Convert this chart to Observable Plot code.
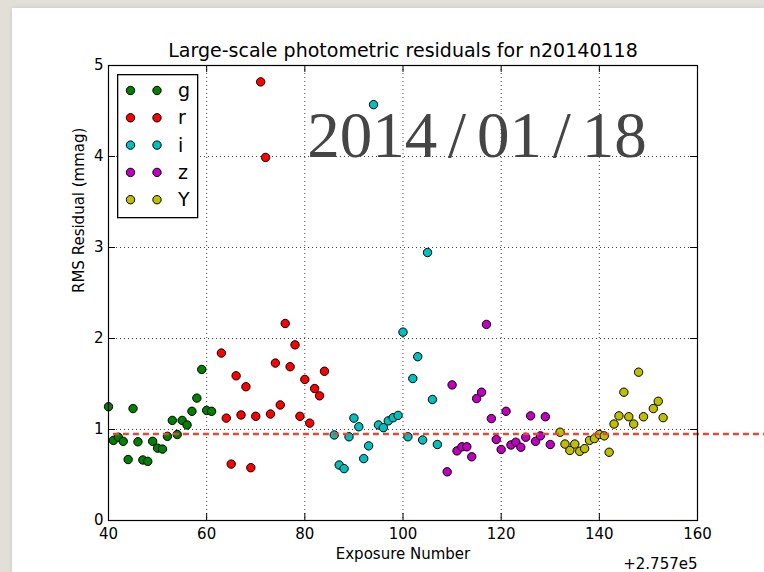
<!DOCTYPE html>
<html>
<head>
<meta charset="utf-8">
<script src="https://cdn.jsdelivr.net/npm/d3@7"></script>
<script src="https://cdn.jsdelivr.net/npm/@observablehq/plot@0.6"></script>
<style>
  html { margin: 0; padding: 0; background: #e2ded8; }
  body { margin: 0; padding: 0; width: 764px; height: 572px; background: #e2ded8; position: relative; overflow: hidden;
         font-family: "DejaVu Sans", sans-serif; }
  #panel { position: absolute; left: 12px; top: 8px; width: 752px; height: 564px; background: #fff;
           box-shadow: 0 0 4px rgba(0,0,0,0.12); }
  #panel svg { position: absolute; left: 0; top: 0; overflow: visible; }
  #legend { position: absolute; left: 105px; top: 66px; }
  #legend svg { position: static; }
</style>
</head>
<body>
<div id="panel"><div id="legend"></div></div>
<script>
// Exposure numbers are shown on the axis relative to this offset.
const EXPOSURE_OFFSET = 275700;

const bands = ["g", "r", "i", "z", "Y"];
const bandColors = ["#008000", "#ff0000", "#00bfbf", "#bf00bf", "#bfbf00"];

const gExposure = [275740, 275741, 275742, 275743, 275744, 275745, 275746, 275747, 275748, 275749, 275750,
                   275751, 275752, 275753, 275754, 275755, 275756, 275757, 275758, 275759, 275760, 275761];
const gRms = [1.25, 0.88, 0.915, 0.87, 0.67, 1.23, 0.865, 0.665, 0.65, 0.87, 0.795,
              0.785, 0.925, 1.10, 0.945, 1.10, 1.05, 1.20, 1.345, 1.66, 1.21, 1.20];

const rExposure = [275763, 275764, 275765, 275766, 275767, 275768, 275769, 275770, 275771, 275772, 275773,
                   275774, 275775, 275776, 275777, 275778, 275779, 275780, 275781, 275782, 275783, 275784];
const rRms = [1.84, 1.125, 0.62, 1.59, 1.16, 1.47, 0.58, 1.145, 4.82, 3.99, 1.17,
              1.73, 1.27, 2.165, 1.69, 1.93, 1.145, 1.55, 1.07, 1.45, 1.37, 1.64];

const iExposure = [275786, 275787, 275788, 275789, 275790, 275791, 275792, 275793, 275794, 275795, 275796,
                   275797, 275798, 275799, 275800, 275801, 275802, 275803, 275804, 275805, 275806, 275807];
const iRms = [0.94, 0.61, 0.57, 0.92, 1.125, 1.03, 0.68, 0.82, 4.57, 1.05, 1.02,
              1.095, 1.13, 1.155, 2.07, 0.92, 1.56, 1.80, 0.885, 2.945, 1.33, 0.835];

const zExposure = [275809, 275810, 275811, 275812, 275813, 275814, 275815, 275816, 275817, 275818, 275819,
                   275820, 275821, 275822, 275823, 275824, 275825, 275826, 275827, 275828, 275829, 275830];
const zRms = [0.535, 1.49, 0.765, 0.81, 0.81, 0.70, 1.34, 1.41, 2.155, 1.12, 0.89,
              0.78, 1.20, 0.83, 0.86, 0.805, 0.915, 1.15, 0.87, 0.93, 1.14, 0.835];

const yExposure = [275832, 275833, 275834, 275835, 275836, 275837, 275838, 275839, 275840, 275841, 275842,
                   275843, 275844, 275845, 275846, 275847, 275848, 275849, 275851, 275852, 275853];
const yRms = [0.97, 0.84, 0.77, 0.84, 0.76, 0.79, 0.88, 0.90, 0.945, 0.93, 0.75,
              1.06, 1.15, 1.41, 1.14, 1.06, 1.63, 1.14, 1.23, 1.31, 1.13];

// Night-wide reference level (dashed line).
const medianRms = 0.95;

const xTickLabels = [40, 60, 80, 100, 120, 140, 160];
const yTicks = [0, 1, 2, 3, 4, 5];

const titleText = "Large-scale photometric residuals for n20140118";
const dateText = "2014\u2006/\u200601\u2006/\u200618";
const xLabel = "Exposure Number";
const yLabel = "RMS Residual (mmag)";
const offsetLabel = "+2.757e5";

const series = [
  {band: "g", exposure: gExposure, rms: gRms},
  {band: "r", exposure: rExposure, rms: rRms},
  {band: "i", exposure: iExposure, rms: iRms},
  {band: "z", exposure: zExposure, rms: zRms},
  {band: "Y", exposure: yExposure, rms: yRms}
];
const obs = series.flatMap(s => s.exposure.map((e, i) => ({band: s.band, exposure: e, rms: s.rms[i]})));

const W = 752, H = 564;
const M = {left: 96, right: 67, top: 57, bottom: 52};
const plotW = W - M.left - M.right, plotH = H - M.top - M.bottom;
const TICK = 7;

const xTickPos = xTickLabels.map(t => EXPOSURE_OFFSET + t);
const innerX = xTickPos.slice(1, -1);
const innerY = yTicks.slice(1, -1);
const gridStyle = {stroke: "#000", strokeOpacity: 0.75, strokeWidth: 1, strokeDasharray: "1,3"};

const chart = Plot.plot({
  width: W, height: H,
  marginLeft: M.left, marginRight: M.right, marginTop: M.top, marginBottom: M.bottom,
  style: {fontFamily: "'DejaVu Sans', sans-serif", fontSize: "15px", color: "#000",
          background: "transparent", overflow: "visible"},
  x: {domain: [xTickPos[0], xTickPos[xTickPos.length - 1]]},
  y: {domain: [0, 5]},
  color: {domain: bands, range: bandColors},
  marks: [
    Plot.gridX(innerX, gridStyle),
    Plot.gridY(innerY, gridStyle),
    Plot.text([dateText], {text: d => d, x: EXPOSURE_OFFSET + 80.5, y: 4, textAnchor: "start",
      lineAnchor: "bottom", fontFamily: "'Liberation Serif', serif", fontSize: 65, fill: "#454545"}),
    Plot.dot(obs, {x: "exposure", y: "rms", fill: "band", r: 4.2, stroke: "#000", strokeWidth: 1}),
    Plot.ruleY([medianRms], {x1: EXPOSURE_OFFSET + 41, x2: EXPOSURE_OFFSET + 176, stroke: "#e24a33",
      strokeWidth: 2.5, strokeDasharray: "6,4", clip: false}),
    // inward ticks on all four sides
    Plot.tickX(xTickPos, {x: d => d, insetTop: plotH - TICK, stroke: "#000"}),
    Plot.tickX(xTickPos, {x: d => d, insetBottom: plotH - TICK, stroke: "#000"}),
    Plot.tickY(yTicks, {y: d => d, insetRight: plotW - TICK, stroke: "#000"}),
    Plot.tickY(yTicks, {y: d => d, insetLeft: plotW - TICK, stroke: "#000"}),
    Plot.frame({stroke: "#000", strokeWidth: 1.2}),
    Plot.axisX(xTickPos, {tickSize: 0, tickPadding: 8, tickFormat: d => String(d - EXPOSURE_OFFSET),
      label: null, fontSize: 15}),
    Plot.axisY(yTicks, {tickSize: 0, tickPadding: 5, tickFormat: d => String(d), label: null, fontSize: 15}),
    Plot.text([titleText], {text: d => d, frameAnchor: "top", dy: -15, lineAnchor: "middle", fontSize: 19}),
    Plot.text([xLabel], {text: d => d, frameAnchor: "bottom", dy: 34, lineAnchor: "middle", fontSize: 15}),
    Plot.text([offsetLabel], {text: d => d, frameAnchor: "bottom-right", textAnchor: "end", dy: 44,
      lineAnchor: "middle", fontSize: 15}),
    Plot.text([yLabel], {text: d => d, frameAnchor: "left", dx: -29, rotate: -90, lineAnchor: "middle", fontSize: 15})
  ]
});
const panel = document.getElementById("panel");
panel.insertBefore(chart, panel.firstChild);

// Legend: two markers per band, as in the plotted points.
const lg = d3.select("#legend").append("svg").attr("width", 82).attr("height", 145);
lg.append("rect").attr("x", 0.65).attr("y", 0.65).attr("width", 80).attr("height", 143)
  .attr("fill", "#fff").attr("stroke", "#000").attr("stroke-width", 1.3);
bands.forEach((b, i) => {
  const cy = 16.5 + i * 27.3;
  [13.5, 40].forEach(cx => lg.append("circle").attr("cx", cx).attr("cy", cy).attr("r", 4.2)
    .attr("fill", bandColors[i]).attr("stroke", "#000").attr("stroke-width", 1));
  lg.append("text").attr("x", 61).attr("y", cy).attr("dy", "0.35em")
    .attr("font-family", "'DejaVu Sans', sans-serif").attr("font-size", 19).text(b);
});
</script>
</body>
</html>
